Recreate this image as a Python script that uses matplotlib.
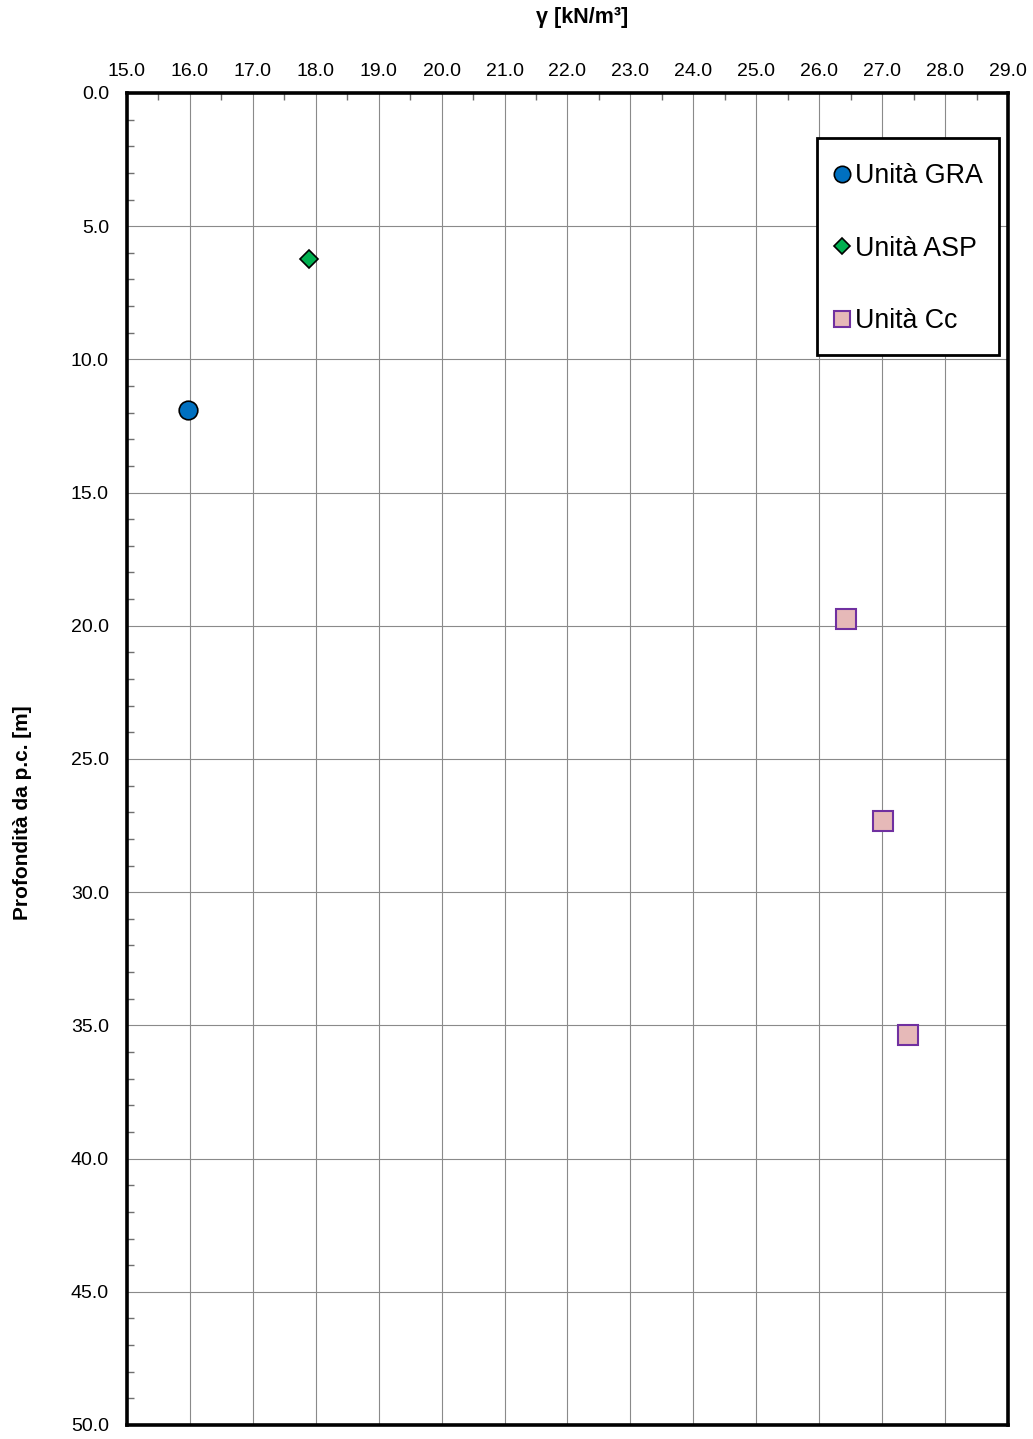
import matplotlib
matplotlib.use("Agg")
import matplotlib.pyplot as plt
from matplotlib.ticker import MultipleLocator, FormatStrFormatter
from matplotlib.lines import Line2D
from matplotlib.patches import Rectangle

plt.rcParams['font.family'] = ['Liberation Sans', 'DejaVu Sans']

# Unit weight (kN/m3) vs depth (m) for each geological unit
gra_gamma = [15.97]
gra_depth = [11.9]
asp_gamma = [17.89]
asp_depth = [6.24]
cc_gamma = [26.42, 27.02, 27.41]
cc_depth = [19.75, 27.31, 35.36]

labels = ["Unità GRA", "Unità ASP", "Unità Cc"]

fig = plt.figure(figsize=(10.33, 14.39), dpi=100)
ax = fig.add_axes([0.1229, 0.00973, 0.8529, 0.92567])

ax.set_xlim(15, 29)
ax.set_ylim(50, 0)

ax.xaxis.set_major_locator(MultipleLocator(1.0))
ax.xaxis.set_minor_locator(MultipleLocator(0.5))
ax.yaxis.set_major_locator(MultipleLocator(5.0))
ax.yaxis.set_minor_locator(MultipleLocator(1.0))
ax.xaxis.set_major_formatter(FormatStrFormatter('%.1f'))
ax.yaxis.set_major_formatter(FormatStrFormatter('%.1f'))

ax.xaxis.tick_top()
ax.tick_params(axis='x', which='both', top=True, bottom=False, direction='in')
ax.tick_params(axis='y', which='both', left=True, right=False, direction='in')
ax.tick_params(which='major', length=0, labelsize=14, pad=9)
ax.tick_params(axis='y', which='major', pad=13)
ax.tick_params(which='minor', length=5, width=1.0, color='#707070')

ax.grid(True, which='major', color='#8a8a8a', linewidth=0.8)
ax.set_axisbelow(True)
for s in ax.spines.values():
    s.set_linewidth(2.6)
    s.set_color('black')

ax.plot(gra_gamma, gra_depth, linestyle='none', marker='o', markersize=13.4,
        markerfacecolor='#0070C0', markeredgecolor='black', markeredgewidth=1.2)
ax.plot(asp_gamma, asp_depth, linestyle='none', marker='D', markersize=9.5,
        markerfacecolor='#00B050', markeredgecolor='black', markeredgewidth=1.2)
ax.plot(cc_gamma, cc_depth, linestyle='none', marker='s', markersize=14.3,
        markerfacecolor='#E6B9B8', markeredgecolor='#7030A0', markeredgewidth=1.5)

# Legend box: framed panel in the upper right, entries widely spaced
ax.add_patch(Rectangle((0.7832, 0.8033), 0.2066, 0.1629, transform=ax.transAxes,
                       facecolor='white', edgecolor='black', linewidth=2.0,
                       zorder=4.5))
handles = [
    Line2D([], [], linestyle='none', marker='o', markersize=11.8,
           markerfacecolor='#0070C0', markeredgecolor='black', markeredgewidth=1.2),
    Line2D([], [], linestyle='none', marker='D', markersize=8.4,
           markerfacecolor='#00B050', markeredgecolor='black', markeredgewidth=1.2),
    Line2D([], [], linestyle='none', marker='s', markersize=11.5,
           markerfacecolor='#E6B9B8', markeredgecolor='#7030A0', markeredgewidth=1.5),
]
leg = ax.legend(handles, labels, loc='upper left', bbox_to_anchor=(0.8014, 0.9471),
                borderaxespad=0, fontsize=19.3, frameon=False,
                labelspacing=1.73, handlelength=0.67,
                handletextpad=0.15, borderpad=0)
leg.set_zorder(5)

ax.set_xlabel('γ [kN/m³]', fontsize=15.5, fontweight='bold')
ax.xaxis.set_label_position('top')
ax.xaxis.set_label_coords(0.5165, 1.0563)
ax.xaxis.label.set_va('center')

ax.set_ylabel('Profondità da p.c. [m]', fontsize=15, fontweight='bold')
ax.yaxis.set_label_coords(-0.119, 0.4598)
ax.yaxis.label.set_va('center')

fig.savefig('out.png', dpi=100)
